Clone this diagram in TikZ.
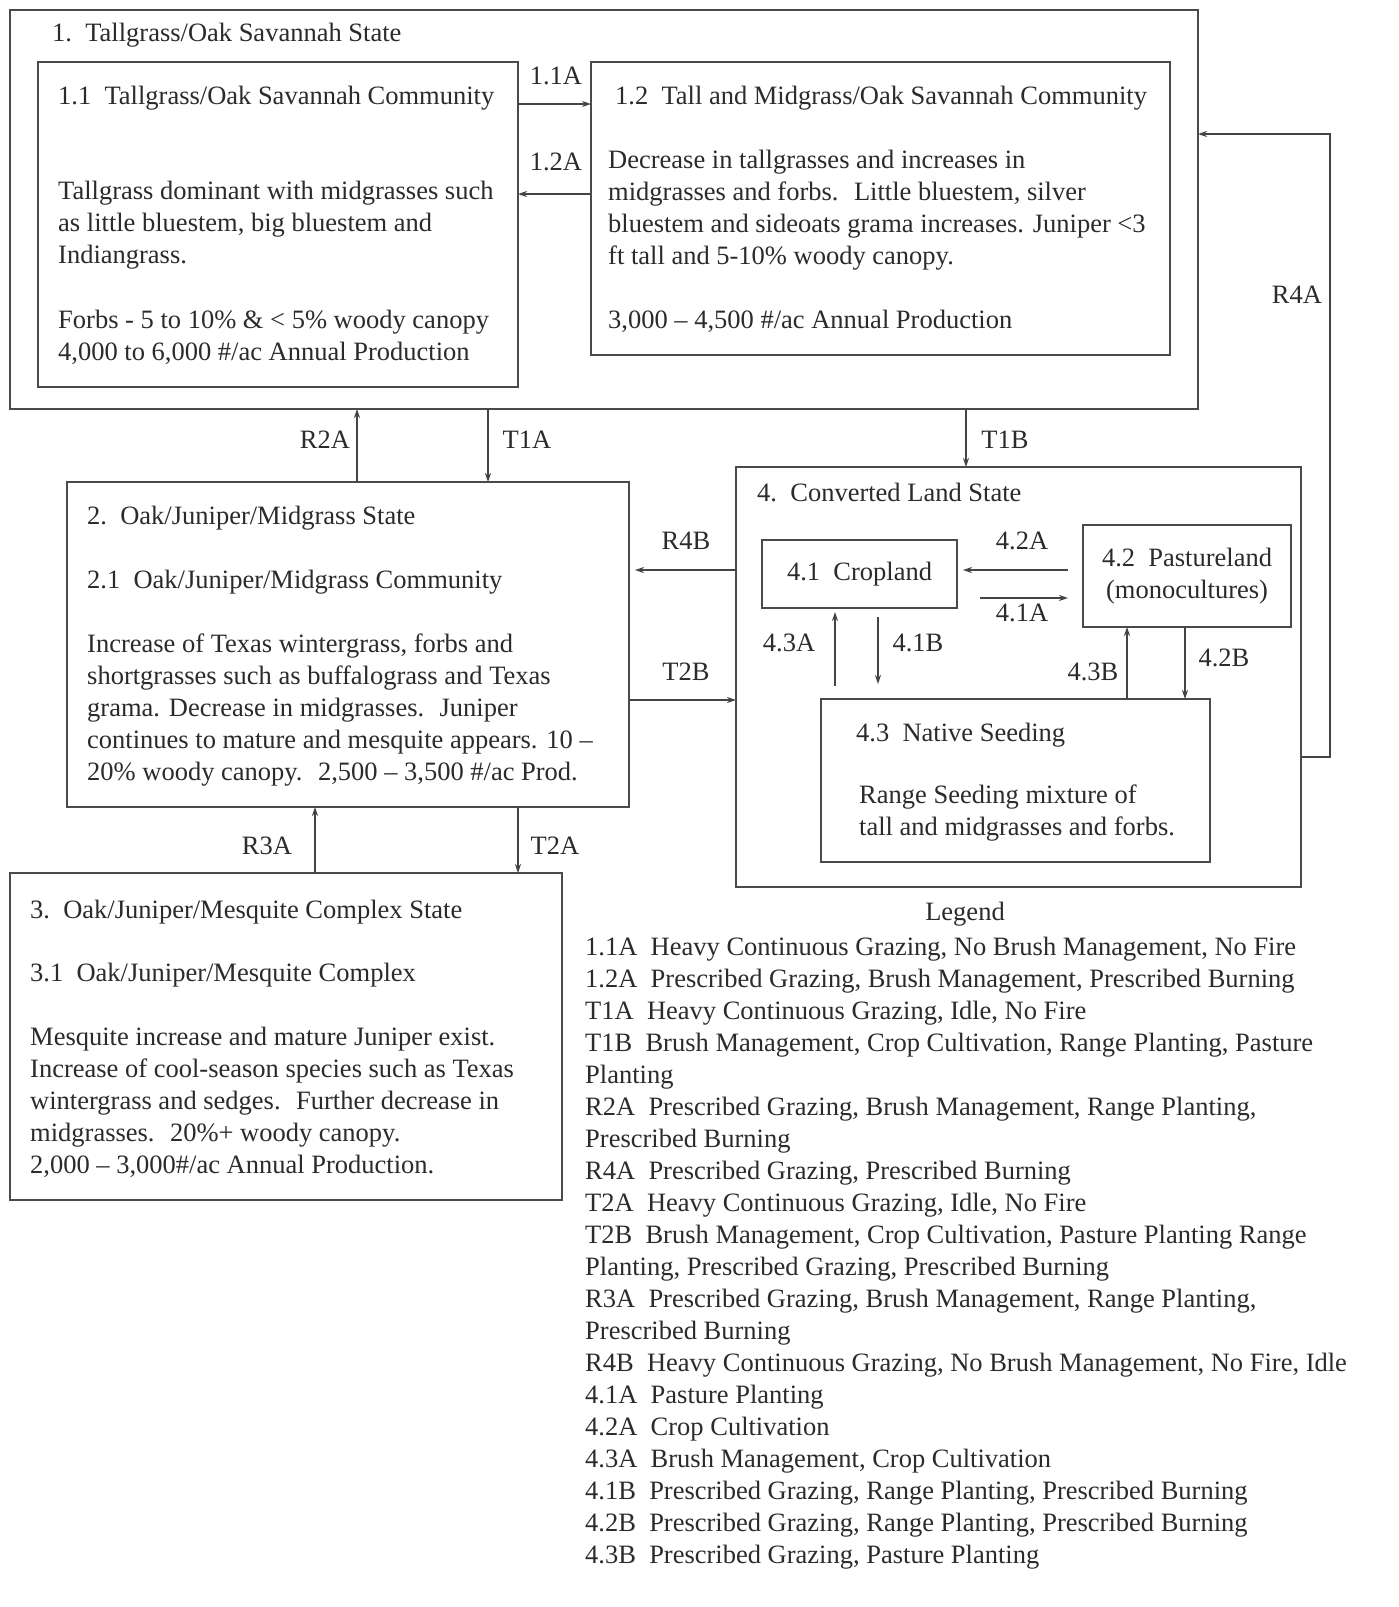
\documentclass[tikz,border=0pt]{standalone}
\usepackage{fontspec}
\setmainfont{Liberation Serif}
\usetikzlibrary{arrows.meta}
\definecolor{boxc}{HTML}{4A4A4A}
\definecolor{linec}{HTML}{444444}
\definecolor{txtc}{HTML}{2B2B2B}
\newcommand\fs{\fontsize{26.5}{32}\selectfont}
\newcommand\blk[1]{\begin{tabular}[t]{@{}l@{}}#1\end{tabular}}
\begin{document}
\begin{tikzpicture}[x=1pt,y=-1pt,
  box/.style={draw=boxc, line width=1.8pt, anchor=north west, inner sep=0pt, outer sep=0pt, text=txtc, font=\fs},
  txt/.style={anchor=base west, inner sep=0pt, text=txtc, font=\fs},
  lbl/.style={inner sep=0pt, text=txtc, font=\fs},
  arr/.style={draw=linec, line width=1.4pt, -{Stealth[length=9pt,width=6pt]}}]
\useasboundingbox[fill=white] (0,0) rectangle (1399,1607);

% state 1
\node[box, minimum width=1188pt, minimum height=399pt] (b1) at (10,10) {};
\node[txt] (t1) at (52,41) {1.~~Tallgrass/Oak Savannah State};
\node[box, minimum width=480pt, minimum height=325pt] (b11) at (38,62) {};
\node[txt] (t11) at (58,104) {1.1~~Tallgrass/Oak Savannah Community};
\node[txt] (p11) at (58,199) {\blk{Tallgrass dominant with midgrasses such\\as little bluestem, big bluestem and\\Indiangrass.}};
\node[txt] (q11) at (58,328) {\blk{Forbs - 5 to 10\% \& < 5\% woody canopy\\4,000 to 6,000 \#/ac Annual Production}};
\node[box, minimum width=579pt, minimum height=293pt] (b12) at (591,62) {};
\node[txt] (t12) at (615,104) {1.2~~Tall and Midgrass/Oak Savannah Community};
\node[txt] (p12) at (608,168) {\blk{Decrease in tallgrasses and increases in\\midgrasses and forbs.~ Little bluestem, silver\\bluestem and sideoats grama increases. Juniper <3\\ft tall and 5-10\% woody canopy.}};
\node[txt] (q12) at (608,328) {3,000 – 4,500 \#/ac Annual Production};

% state 2
\node[box, minimum width=562pt, minimum height=325pt] (b2) at (67,482) {};
\node[txt] (t2) at (87,524) {2.~~Oak/Juniper/Midgrass State};
\node[txt] (t21) at (87,588) {2.1~~Oak/Juniper/Midgrass Community};
\node[txt] (p2) at (87,652) {\blk{Increase of Texas wintergrass, forbs and\\shortgrasses such as buffalograss and Texas\\grama. Decrease in midgrasses.~ Juniper\\continues to mature and mesquite appears. 10 –\\20\% woody canopy.~ 2,500 – 3,500 \#/ac Prod.}};

% state 3
\node[box, minimum width=552pt, minimum height=327pt] (b3) at (10,873) {};
\node[txt] (t3) at (30,918) {3.~~Oak/Juniper/Mesquite Complex State};
\node[txt] (t31) at (30,981) {3.1~~Oak/Juniper/Mesquite Complex};
\node[txt] (p3) at (30,1045) {\blk{Mesquite increase and mature Juniper exist.\\Increase of cool-season species such as Texas\\wintergrass and sedges.~ Further decrease in\\midgrasses.~ 20\%+ woody canopy.\\2,000 – 3,000\#/ac Annual Production.}};

% state 4
\node[box, minimum width=565pt, minimum height=420pt] (b4) at (736,467) {};
\node[txt] (t4) at (757,501) {4.~~Converted Land State};
\node[box, minimum width=195pt, minimum height=68pt] (b41) at (762,540) {4.1~~Cropland};
\node[box, minimum width=208pt, minimum height=102pt, align=center] (b42) at (1083,525) {4.2~~Pastureland\\(monocultures)};
\node[box, minimum width=389pt, minimum height=163pt] (b43) at (821,699) {};
\node[txt] (t43) at (856,741) {4.3~~Native Seeding};
\node[txt] (p43) at (859,803) {\blk{Range Seeding mixture of\\tall and midgrasses and forbs.}};

% legend
\node[lbl] (lg) at (965,914) {Legend};
\node[txt] (lgt) at (585,955) {\blk{1.1A~~Heavy Continuous Grazing, No Brush Management, No Fire\\
1.2A~~Prescribed Grazing, Brush Management, Prescribed Burning\\
T1A~~Heavy Continuous Grazing, Idle, No Fire\\
T1B~~Brush Management, Crop Cultivation, Range Planting, Pasture\\
Planting\\
R2A~~Prescribed Grazing, Brush Management, Range Planting,\\
Prescribed Burning\\
R4A~~Prescribed Grazing, Prescribed Burning\\
T2A~~Heavy Continuous Grazing, Idle, No Fire\\
T2B~~Brush Management, Crop Cultivation, Pasture Planting Range\\
Planting, Prescribed Grazing, Prescribed Burning\\
R3A~~Prescribed Grazing, Brush Management, Range Planting,\\
Prescribed Burning\\
R4B~~Heavy Continuous Grazing, No Brush Management, No Fire, Idle\\
4.1A~~Pasture Planting\\
4.2A~~Crop Cultivation\\
4.3A~~Brush Management, Crop Cultivation\\
4.1B~~Prescribed Grazing, Range Planting, Prescribed Burning\\
4.2B~~Prescribed Grazing, Range Planting, Prescribed Burning\\
4.3B~~Prescribed Grazing, Pasture Planting}};

% connectors
\draw[arr] (b11.east |- 0,104) -- (b12.west |- 0,104);
\draw[arr] (b12.west |- 0,194) -- (b11.east |- 0,194);
\draw[arr] (b4.east |- 0,757) -- ++(29,0) |- (b1.east |- 0,134);
\draw[arr] (b1.south -| 966,0) -- (b4.north -| 966,0);
\draw[arr] (b2.north -| 357,0) -- (b1.south -| 357,0);
\draw[arr] (b1.south -| 488,0) -- (b2.north -| 488,0);
\draw[arr, shorten >=6pt] (b4.west |- 0,570) -- (b2.east |- 0,570);
\draw[arr] (b2.east |- 0,700) -- (b4.west |- 0,700);
\draw[arr] (b3.north -| 315,0) -- (b2.south -| 315,0);
\draw[arr] (b2.south -| 518,0) -- (b3.north -| 518,0);
\draw[arr, shorten <=15pt, shorten >=6pt] (b42.west |- 0,570) -- (b41.east |- 0,570);
\draw[arr, shorten <=23pt, shorten >=15pt] (b41.east |- 0,598) -- (b42.west |- 0,598);
\draw[arr, shorten <=13pt, shorten >=4pt] (b43.north -| 835,0) -- (b41.south -| 835,0);
\draw[arr, shorten <=9pt, shorten >=15pt] (b41.south -| 878,0) -- (b43.north -| 878,0);
\draw[arr] (b43.north -| 1127,0) -- (b42.south -| 1127,0);
\draw[arr] (b42.south -| 1185,0) -- (b43.north -| 1185,0);

% connector labels
\node[lbl] (l11a) at (556,76) {1.1A};
\node[lbl] (l12a) at (556,162) {1.2A};
\node[lbl] (lr4a) at (1297,295) {R4A};
\node[lbl] (lt1b) at (1005,440) {T1B};
\node[lbl] (lr2a) at (325,440) {R2A};
\node[lbl] (lt1a) at (527,440) {T1A};
\node[lbl] (lr4b) at (686,541) {R4B};
\node[lbl] (lt2b) at (686,672) {T2B};
\node[lbl] (lr3a) at (267,846) {R3A};
\node[lbl] (lt2a) at (555,846) {T2A};
\node[lbl] (l42a) at (1022,541) {4.2A};
\node[lbl] (l41a) at (1022,613) {4.1A};
\node[lbl] (l43a) at (789,643) {4.3A};
\node[lbl] (l41b) at (918,643) {4.1B};
\node[lbl] (l43b) at (1093,672) {4.3B};
\node[lbl] (l42b) at (1224,658) {4.2B};
\end{tikzpicture}
\end{document}
